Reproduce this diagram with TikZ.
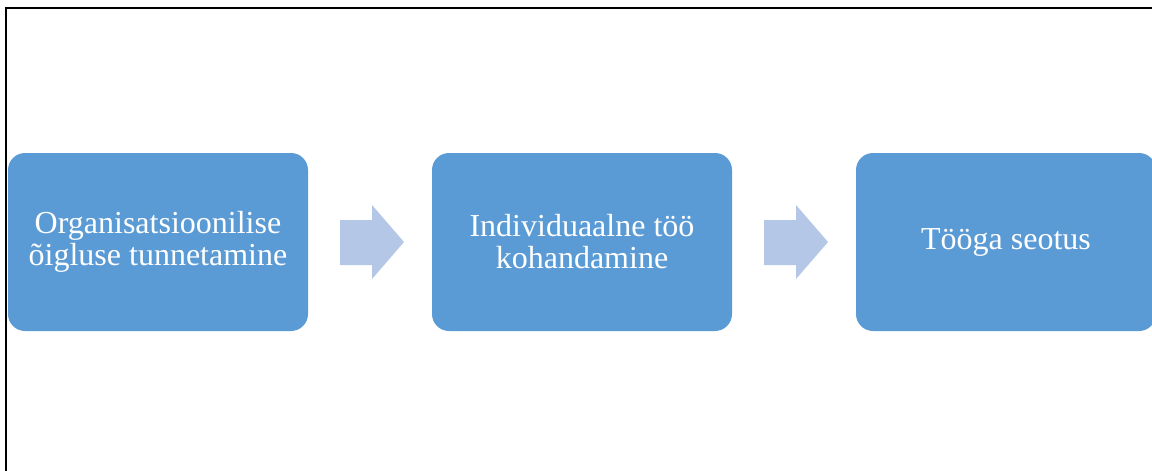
\documentclass[tikz,border=0pt]{standalone}
\usepackage{fontspec}
\setmainfont{Liberation Serif}
\definecolor{boxblue}{HTML}{5B9BD5}
\definecolor{arrblue}{HTML}{B4C7E7}
\tikzset{
  stage/.style={rectangle, rounded corners=17pt, fill=boxblue, text=white, align=center,
    minimum width=300pt, minimum height=178pt, inner sep=0pt,
    font=\fontsize{32}{32}\selectfont},
  blockarr/.style={fill=arrblue}
}
\begin{document}
\begin{tikzpicture}[x=1pt,y=-1pt]
\useasboundingbox (0,0) rectangle (1152,471);
\fill[white] (0,0) rectangle (1152,471);
\draw[line width=2pt] (6,472) -- (6,8) -- (1153,8);
\node[stage] (box0) at (158,242){Organisatsioonilise\\õigluse tunnetamine};
\node[stage] (box1) at (582,242){Individuaalne töö\\kohandamine};
\node[stage] (box2) at (1006,242){Tööga seotus};
\foreach \x in {340,764}
  \fill[blockarr] (\x,220) -- ++(32,0) -- ++(0,-15) -- ++(32,37) -- ++(-32,37) -- ++(0,-14) -- ++(-32,0) -- cycle;
\end{tikzpicture}
\end{document}
